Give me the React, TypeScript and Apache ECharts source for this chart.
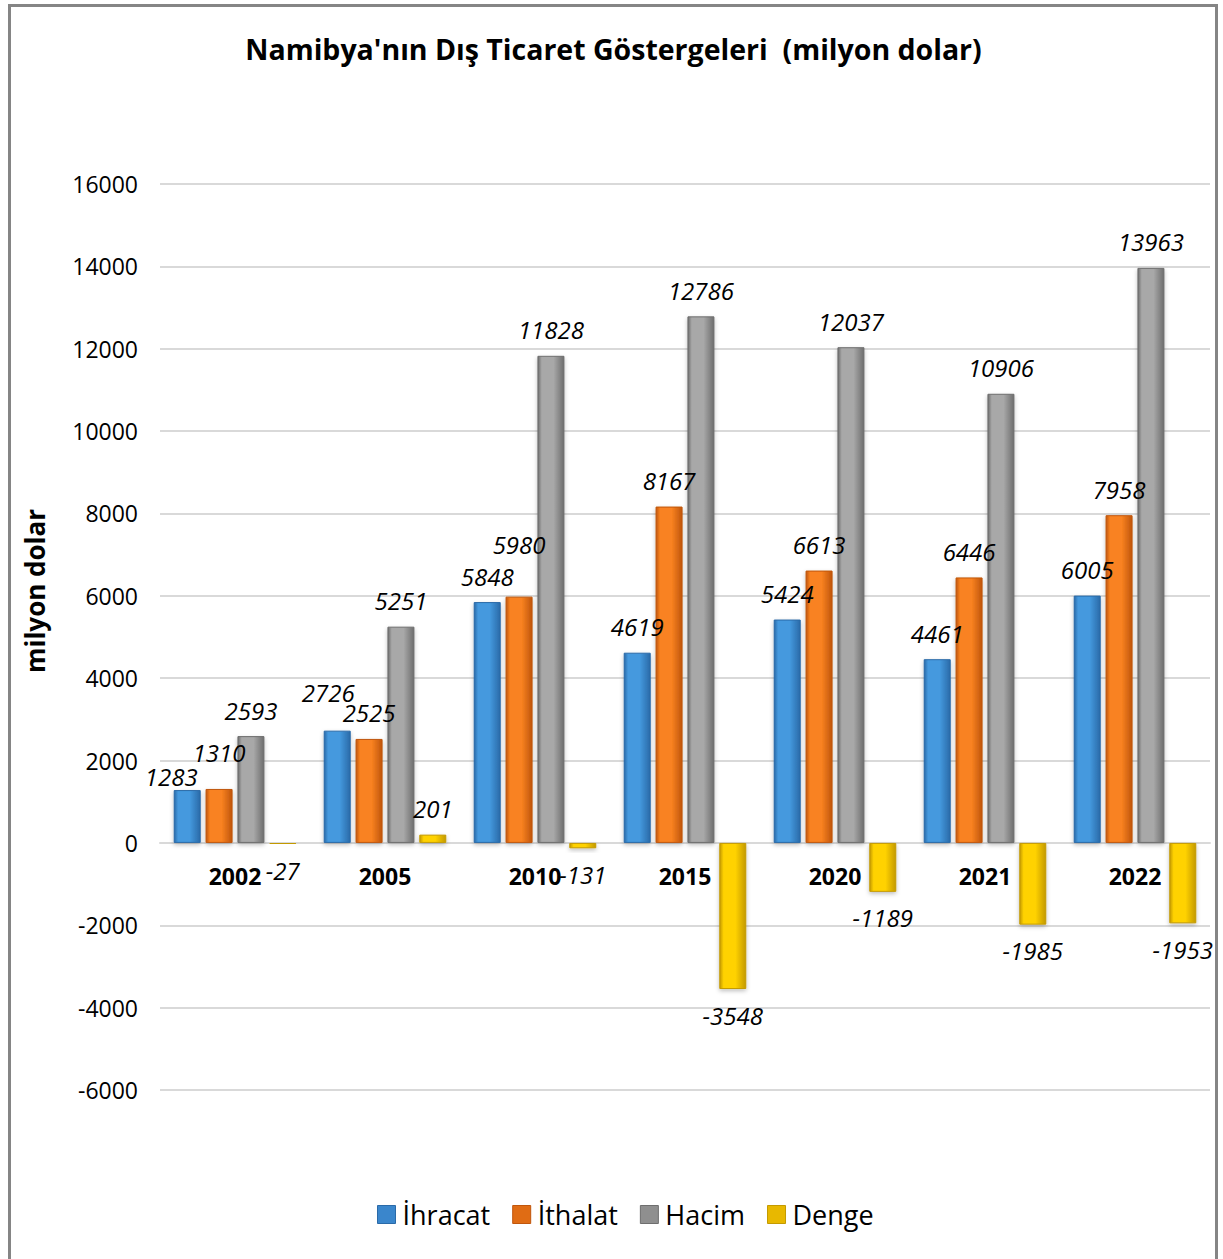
import React, { useEffect, useRef } from "react";
import * as echarts from "echarts";

const years = ["2002", "2005", "2010", "2015", "2020", "2021", "2022"];
const ihracat = [1283, 2726, 5848, 4619, 5424, 4461, 6005];
const ithalat = [1310, 2525, 5980, 8167, 6613, 6446, 7958];
const hacim = [2593, 5251, 11828, 12786, 12037, 10906, 13963];
const denge = [-27, 201, -131, -3548, -1189, -1985, -1953];

const FONT = "'Open Sans', 'Noto Sans', sans-serif";

// label nudges (style only), keyed "seriesIndex-dataIndex", to reproduce the reference's staggered labels
const labelNudge: Record<string, [number, number]> = {
  "0-0": [-16, 12],
  "1-0": [0, -10],
  "0-1": [-9, -12],
  "1-2": [0, -26],
};

function grad(edge: string, mid: string) {
  return new echarts.graphic.LinearGradient(0, 0, 1, 0, [
    { offset: 0, color: edge },
    { offset: 0.15, color: mid },
    { offset: 0.6, color: mid },
    { offset: 1, color: edge },
  ]);
}

const seriesDefs = [
  { name: "İhracat", data: ihracat, edge: "#2a6aa8", mid: "#4499de", legend: "#3a86cc" },
  { name: "İthalat", data: ithalat, edge: "#c0560c", mid: "#f98220", legend: "#e06c14" },
  { name: "Hacim", data: hacim, edge: "#6e6e6e", mid: "#a8a8a8", legend: "#8f8f8f" },
  { name: "Denge", data: denge, edge: "#c49a00", mid: "#ffd200", legend: "#e8b800" },
];

const Y_MIN = -6000;
const Y_MAX = 16000;
const GRID_TOP = 180;
const GRID_BOTTOM = 169;
const CHART_H = 1255;

export default function App() {
  const ref = useRef<HTMLDivElement>(null);
  useEffect(() => {
    if (!ref.current) return;
    const chart = echarts.init(ref.current, null, { renderer: "svg" });
    const gridH = CHART_H - GRID_TOP - GRID_BOTTOM;
    const zeroOffset = -(gridH * (0 - Y_MIN)) / (Y_MAX - Y_MIN);
    chart.setOption({
      animation: false,
      backgroundColor: "#ffffff",
      title: {
        text: "Namibya'nın Dış Ticaret Göstergeleri  (milyon dolar)",
        left: "center",
        top: 25,
        textStyle: { fontFamily: FONT, fontSize: 28.5, fontWeight: "bold", color: "#000" },
      },
      legend: {
        bottom: 26,
        left: 364,
        itemWidth: 18,
        itemHeight: 18,
        itemGap: 22,
        textStyle: { fontFamily: FONT, fontSize: 27, color: "#000", padding: [0, 0, 0, 2] },
        data: seriesDefs.map((s) => ({
          name: s.name,
          icon: "rect",
          itemStyle: { color: s.legend, borderColor: s.edge, borderWidth: 1 },
        })),
      },
      grid: { left: 152, right: 9, top: GRID_TOP, bottom: GRID_BOTTOM },
      xAxis: {
        type: "category",
        data: years,
        offset: zeroOffset,
        axisLine: { onZero: false, lineStyle: { color: "#d9d9d9", width: 2 } },
        axisTick: { show: false },
        axisLabel: {
          fontFamily: FONT,
          fontSize: 23,
          fontWeight: "bold",
          color: "#000",
          margin: 22,
        },
      },
      yAxis: {
        type: "value",
        min: Y_MIN,
        max: Y_MAX,
        interval: 2000,
        axisLine: { show: false },
        axisTick: { show: false },
        splitLine: { lineStyle: { color: "#d9d9d9", width: 2 } },
        axisLabel: {
          fontFamily: FONT,
          fontSize: 23,
          color: "#000",
          margin: 22,
          formatter: (v: number) => String(v),
        },
      },
      graphic: [
        {
          type: "rect",
          shape: { x: 1.5, y: 1.5, width: 1207, height: 1300 },
          style: { fill: "none", stroke: "#858585", lineWidth: 3 },
          silent: true,
        },
        {
          type: "text",
          x: 27,
          y: 587,
          rotation: Math.PI / 2,
          style: {
            text: "milyon dolar",
            fontFamily: FONT,
            fontSize: 26,
            fontWeight: "bold",
            fill: "#000",
            align: "center",
            verticalAlign: "middle",
          },
        },
      ],
      series: seriesDefs.map((s, si) => ({
        name: s.name,
        type: "bar",
        barWidth: 27,
        barGap: "18%",
        itemStyle: {
          color: grad(s.edge, s.mid),
          borderColor: s.edge,
          borderWidth: 1,
          shadowColor: "rgba(0,0,0,0.25)",
          shadowBlur: 4,
          shadowOffsetY: 2,
        },
        label: {
          show: true,
          position: "top",
          distance: 14,
          fontFamily: FONT,
          fontSize: 24,
          fontStyle: "italic",
          color: "#000",
        },
        data: s.data.map((v, di) => {
          const nudge = labelNudge[`${si}-${di}`];
          const label: any = {};
          if (v < 0) label.position = "bottom";
          if (nudge) label.offset = nudge;
          return { value: v, label };
        }),
      })),
    });
    return () => chart.dispose();
  }, []);
  return (
    <div
      ref={ref}
      style={{ position: "fixed", left: 8, top: 4, width: 1211, height: CHART_H }}
    />
  );
}
